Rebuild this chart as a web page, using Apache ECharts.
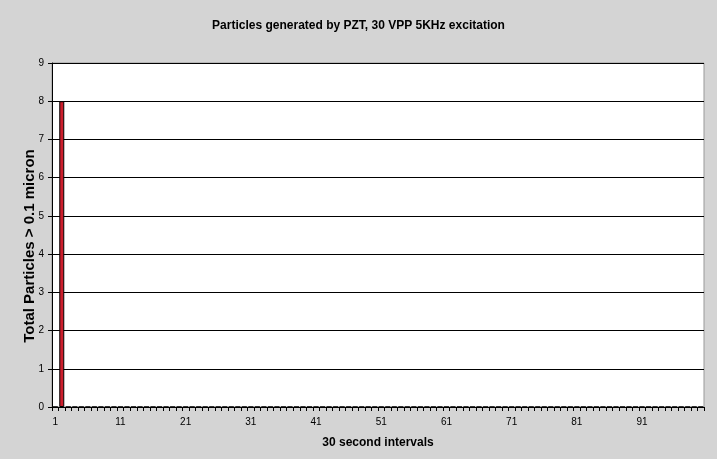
<!DOCTYPE html>
<html><head><meta charset="utf-8">
<script src="https://cdn.jsdelivr.net/npm/echarts@6/dist/echarts.min.js"></script>
<style>html,body{margin:0;padding:0;background:#d4d4d4;}#c{width:717px;height:459px;}</style>
</head><body><div id="c"></div>
<script>
const categories = [];
for (let i = 1; i <= 100; i++) categories.push(String(i));
const values = [0, 8];
while (values.length < 100) values.push(0);
const titleText = 'Particles generated by PZT, 30 VPP 5KHz excitation';
const xName = '30 second intervals';
const yName = 'Total Particles > 0.1 micron';

const chart = echarts.init(document.getElementById('c'));
chart.setOption({
  backgroundColor: '#d4d4d4',
  animation: false,
  title: {text: titleText, left: 'center', top: 15,
    textStyle: {fontFamily: 'Liberation Sans, Arial', fontSize: 12, fontWeight: 'bold', color: '#000'}},
  grid: {left: 52, right: 13, top: 63, bottom: 52, show: true, backgroundColor: '#fff', borderColor: '#999', borderWidth: 1},
  graphic: [{type: 'text', x: 30, y: 246, rotation: Math.PI / 2,
    style: {text: yName, align: 'center', verticalAlign: 'middle',
      font: 'bold 15px "Liberation Sans", Arial', fill: '#000'}}],
  xAxis: {type: 'category', data: categories,
    name: xName, nameLocation: 'middle', nameGap: 30,
    nameTextStyle: {fontFamily: 'Liberation Sans, Arial', fontSize: 12, fontWeight: 'bold', color: '#000'},
    axisLine: {lineStyle: {color: '#000', width: 1}},
    axisTick: {show: true, interval: 0, length: 4, lineStyle: {color: '#000'}},
    axisLabel: {interval: 9, color: '#000', fontSize: 10, fontFamily: 'Liberation Sans, Arial', margin: 10},
    splitLine: {show: false}},
  yAxis: {type: 'value', min: 0, max: 9, interval: 1,
    axisLine: {show: true, lineStyle: {color: '#000'}},
    axisTick: {show: true, length: 4, lineStyle: {color: '#000'}},
    axisLabel: {color: '#000', fontSize: 10, fontFamily: 'Liberation Sans, Arial', margin: 8},
    splitLine: {show: true, lineStyle: {color: '#000', width: 1}}},
  series: [{type: 'bar', data: values, barWidth: 5,
    itemStyle: {color: '#cc1e2c', borderColor: '#000', borderWidth: 1}}]
});
</script></body></html>
